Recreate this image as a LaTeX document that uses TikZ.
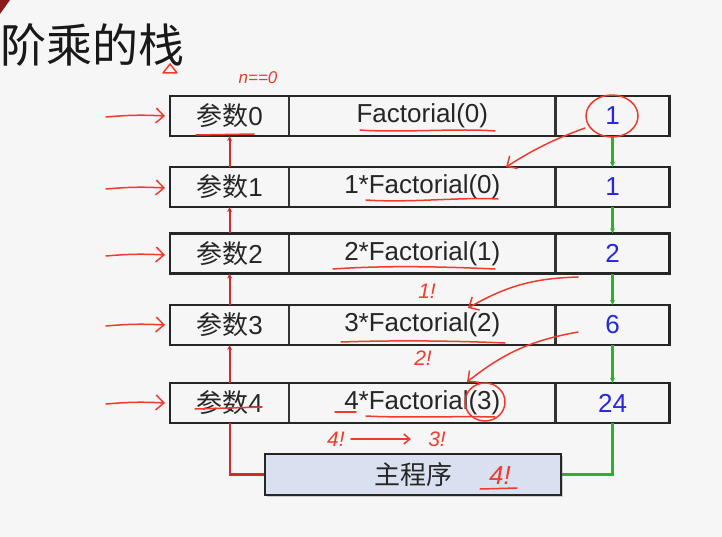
\documentclass[tikz,border=0pt]{standalone}
\usepackage{fontspec}
\setmainfont{Liberation Sans}
\newfontfamily\cjk{Noto Sans CJK SC}
\usetikzlibrary{arrows.meta,shadows,calc}
\definecolor{bg}{HTML}{F6F6F6}
\definecolor{hand}{HTML}{EE3B2C}
\definecolor{numblue}{HTML}{2626DD}
\definecolor{gline}{HTML}{2DB02D}
\definecolor{rline}{HTML}{D42A2A}
\definecolor{mainfill}{HTML}{D9E1F0}
\definecolor{corner}{HTML}{8B1A1A}
\begin{document}
\begin{tikzpicture}[x=1pt,y=-1pt,
  cell/.style={draw=black!80, line width=1.2pt, minimum height=39pt, inner sep=0pt,
    font=\fontsize{26}{28}\selectfont, text=black!85, anchor=west},
  pcell/.style={cell, minimum width=118pt},
  fcell/.style={cell, minimum width=265pt},
  vcell/.style={cell, minimum width=113pt, text=numblue},
  rowframe/.style={draw=black!85, line width=2.6pt},
  upline/.style={draw=rline, line width=2.2pt, -{Stealth[length=5pt,width=5pt]}},
  downline/.style={draw=gline, line width=2.2pt, -{Stealth[length=5pt,width=5pt]}},
  handline/.style={draw=hand, line width=1.5pt, line cap=round, line join=round},
  handarrow/.style={handline, -{Straight Barb[length=8pt,width=15pt,line width=1.5pt]}},
  handtext/.style={text=hand, font=\fontsize{21}{23}\selectfont\itshape, inner sep=0pt}
]
\useasboundingbox[fill=bg] (0,0) rectangle (722,537);
% corner mark
\fill[corner] (0,0) -- (10,0) -- (0,14) -- cycle;
% title
\node[anchor=west, inner sep=0pt, font=\fontsize{46}{50}\selectfont, text=black!90] (title) at (0,45) {\cjk 阶乘的栈};

% rows
\foreach \i/\y/\f/\v in {0/116/Factorial(0)/1, 1/187/1*Factorial(0)/1, 2/253.5/2*Factorial(1)/2, 3/325/3*Factorial(2)/6, 4/403/4*Factorial(3)/24}{
  \node[pcell] (p\i) at (170,\y) {{\cjk 参数}\i};
  \node[fcell] (f\i) at (p\i.east) {\f};
  \node[vcell] (v\i) at (f\i.east) {\v};
  \draw[rowframe] (p\i.north west) rectangle (v\i.south east);
}

% main program box
\node[draw=black!85, line width=2.4pt, fill=mainfill, minimum width=296pt, minimum height=41pt,
  drop shadow={shadow xshift=2pt, shadow yshift=-2pt, opacity=0.35},
  font=\fontsize{26}{28}\selectfont, text=black!85] (main) at (413,474.5) {\cjk 主程序};

% connectors
\foreach \a/\b in {1/0, 2/1, 3/2, 4/3}{
  \draw[upline] (p\a.north) -- (p\b.south);
}
\foreach \a/\b in {0/1, 1/2, 2/3, 3/4}{
  \draw[downline] (v\a.south) -- (v\b.north);
}
\draw[draw=rline, line width=2.2pt] (main.west) -| (p4.south);
\draw[draw=gline, line width=2.2pt] (v4.south) |- (main.east);

% handwritten annotations
\draw[handline] (163,73) -- (170,64) -- (177,73) -- cycle;
\node[handtext, font=\fontsize{17}{18}\selectfont\itshape] (nz) at (258,78) {n==0};
\foreach \y in {116,188,255,325,403}{
  \coordinate (hs\y) at (106,\y+1);
  \coordinate (he\y) at (165,\y);
  \draw[handarrow] (hs\y) to[bend left=4] (he\y);
}
% underlines
\draw[handline] (196,135) -- (254,134);
\draw[handline] (360,130) .. controls (400,133) and (460,128) .. (495,131);
\draw[handline] (366,200) .. controls (410,203) and (460,197) .. (498,199);
\draw[handline] (333,269) .. controls (390,265) and (450,267) .. (495,269);
\draw[handline] (341,342) .. controls (400,340) and (460,341) .. (505,343);
\draw[handline] (335,412) -- (356,412);
\draw[handline] (366,416) .. controls (400,418) and (460,416) .. (495,417);
\draw[handline] (195,409) -- (262,407);
% circles
\draw[handline] (612,116) ellipse[x radius=26pt, y radius=21pt];
\draw[handline] (485,402) ellipse[x radius=20pt, y radius=19pt];
% curved arrows
\coordinate (c1s) at (585,128);
\coordinate (c1e) at (506,167);
\draw[handarrow] (c1s) to[bend right=6] (c1e);
\coordinate (c2s) at (578,277);
\coordinate (c2e) at (468,308);
\draw[handarrow] (c2s) to[bend right=14] (c2e);
\coordinate (c3s) at (578,332);
\coordinate (c3e) at (467,382);
\draw[handarrow] (c3s) to[bend right=14] (c3e);
% small texts
\node[handtext] (t1) at (427,291) {1!};
\node[handtext] (t2) at (423,358) {2!};
\node[handtext] (t4) at (336,439) {4!};
\node[handtext] (t3) at (437,439) {3!};
\draw[handarrow, -{Straight Barb[length=6pt,width=10pt,line width=1.5pt]}] (t4.east) ++(6,0) -- ++(60,0);
\node[handtext, font=\fontsize{26}{28}\selectfont\itshape] (t5) at (500,476) {4!};
\draw[handline] (480,489) -- (517,488);
\end{tikzpicture}
\end{document}
